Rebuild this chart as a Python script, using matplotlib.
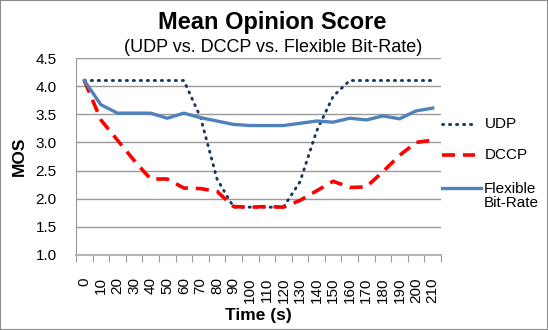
import matplotlib
matplotlib.use("Agg")
import matplotlib.pyplot as plt
from matplotlib.lines import Line2D
import numpy as np

plt.rcParams['font.family'] = ['Liberation Sans', 'DejaVu Sans']

time_labels = ["0", "10", "20", "30", "40", "50", "60", "70", "80", "90", "100",
               "110", "120", "130", "140", "150", "160", "170", "180", "190", "200", "210"]
udp = [4.1, 4.1, 4.1, 4.1, 4.1, 4.1, 4.1, 3.45, 2.35, 1.85, 1.85,
       1.85, 1.85, 2.3, 3.2, 3.82, 4.1, 4.1, 4.1, 4.1, 4.1, 4.1]
dccp = [4.1, 3.4, 3.04, 2.68, 2.35, 2.35, 2.19, 2.18, 2.13, 1.86, 1.85,
        1.86, 1.85, 1.97, 2.14, 2.31, 2.2, 2.21, 2.48, 2.77, 3.0, 3.04]
flexible = [4.1, 3.67, 3.52, 3.52, 3.52, 3.43, 3.52, 3.44, 3.38, 3.32, 3.3,
            3.3, 3.3, 3.34, 3.38, 3.36, 3.43, 3.4, 3.47, 3.42, 3.56, 3.61]
series_names = ["UDP", "DCCP", "Flexible\nBit-Rate"]

W, H = 548, 330
fig = plt.figure(figsize=(W/100, H/100), dpi=100)
fig.patches.append(plt.Rectangle((0, 0), 1, 1, transform=fig.transFigure,
                                 fill=False, edgecolor='#8c8c8c', lw=1.5))
ax = fig.add_axes([76/W, 1-255/H, (441-76)/W, (255-58)/H])

styles = [
    dict(color='#17375E', lw=2.1, linestyle=(0, (0.4, 2.0)), dash_capstyle='round'),
    dict(color='#FF0000', lw=2.6, linestyle=(0, (3.6, 2.2))),
    dict(color='#4F81BD', lw=2.4, linestyle='-'),
]

x = np.arange(len(time_labels))
for vals, st in zip([udp, dccp, flexible], styles):
    ax.plot(x, vals, **st)

ax.set_xlim(-0.5, len(time_labels) - 0.5)
ax.set_ylim(1.0, 4.5)
yt = np.arange(1.0, 4.51, 0.5)
ax.set_yticks(yt)
ax.set_yticklabels([f"{v:.1f}" for v in yt], fontsize=11)
ax.tick_params(axis='y', length=0, pad=14)
ax.yaxis.grid(True, color='#9a9a9a', lw=1)
ax.set_axisbelow(True)

ax.set_xticks(np.arange(-0.5, len(time_labels), 1.0))
ax.set_xticklabels([])
ax.set_xticks(x, minor=True)
ax.set_xticklabels(time_labels, minor=True, rotation=90, fontsize=11)
ax.tick_params(axis='x', which='major', length=5, color='#9a9a9a', direction='out')
ax.tick_params(axis='x', which='minor', length=0, pad=16)

for s in ['top', 'right']:
    ax.spines[s].set_visible(False)
ax.spines['left'].set_color('#9a9a9a')
ax.spines['bottom'].set_color('#b5b5b5')
ax.spines['bottom'].set_linewidth(1.5)

ax.set_xlabel("Time (s)", fontsize=12.5, fontweight='bold', labelpad=4)
ax.set_ylabel("MOS", fontsize=12.5, fontweight='bold', labelpad=6)

fig.text(272/W, 1-22/H, "Mean Opinion Score", ha='center', va='center',
         fontsize=17, fontweight='bold')
fig.text(273/W, 1-47/H, "(UDP vs. DCCP vs. Flexible Bit-Rate)", ha='center',
         va='center', fontsize=13)

# legend, drawn by hand to mimic the reference layout
leg_y = [124, 155, 188]
leg_x1 = [475, 475, 481]
for name, st, yy, x1 in zip(series_names, styles, leg_y, leg_x1):
    fig.add_artist(Line2D([442/W, x1/W], [1-yy/H, 1-yy/H],
                          transform=fig.transFigure, **st))
    if '\n' in name:
        fig.text(484/W, 1-(yy+8)/H, name, ha='left', va='center', fontsize=11,
                 linespacing=1.0)
    else:
        fig.text(485/W, 1-yy/H, name, ha='left', va='center', fontsize=11)

fig.savefig("out.png", dpi=100)
